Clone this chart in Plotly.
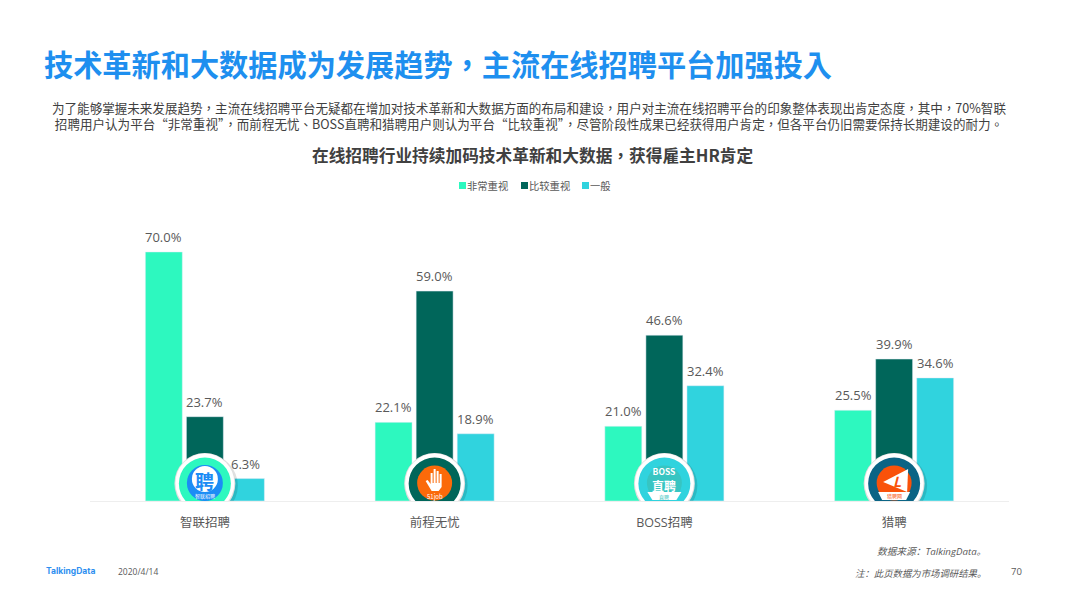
import plotly.graph_objects as go

FONT = "Open Sans, Noto Sans CJK SC, sans-serif"
CJK = "Noto Sans CJK SC, sans-serif"
CJK_TC = "Noto Sans CJK TC, sans-serif"  # 标点居中
W, H = 1066, 599
ML, MR, MT, MB = 90, 57, 200, 98

# 数据
platforms = ["智联招聘", "前程无忧", "BOSS招聘", "猎聘"]
very_high = [70.0, 22.1, 21.0, 25.5]
high = [23.7, 59.0, 46.6, 39.9]
normal = [6.3, 18.9, 32.4, 34.6]
series_names = ["非常重视", "比较重视", "一般"]
series_colors = ["#2DF8BF", "#00665A", "#30D3DE"]

page_title = "技术革新和大数据成为发展趋势，主流在线招聘平台加强投入"
intro = [
    "为了能够掌握未来发展趋势，主流在线招聘平台无疑都在增加对技术革新和大数据方面的布局和建设，用户对主流在线招聘平台的印象整体表现出肯定态度，其中，70%智联",
    "招聘用户认为平台“非常重视”，而前程无忧、BOSS直聘和猎聘用户则认为平台“比较重视”，尽管阶段性成果已经获得用户肯定，但各平台仍旧需要保持长期建设的耐力。",
]
chart_title = "在线招聘行业持续加码技术革新和大数据，获得雇主HR肯定"
source_note = "数据来源：TalkingData。"
page_note = "注：此页数据为市场调研结果。"


def px(x):
    return (x - ML) / (W - ML - MR)


def py(y):
    return (H - MB - y) / (H - MT - MB)


fig = go.Figure()
for k, (name, vals, col) in enumerate(zip(series_names, [very_high, high, normal], series_colors)):
    fig.add_trace(go.Bar(x=platforms, y=vals, name=name, marker_color=col, cliponaxis=False))
    # 数值标签
    for cat, v in zip(platforms, vals):
        fig.add_annotation(x=cat, y=v, xref="x", yref="y", text=f"{v:.1f}%", showarrow=False,
                           xshift=(k - 1) * 41, yshift=4, yanchor="bottom",
                           font=dict(size=13, color="#595959", family=FONT))


def txt(x, y, s, size, color="#404040", anchor="center", **kw):
    fig.add_annotation(x=px(x), y=py(y), xref="paper", yref="paper", text=s,
                       showarrow=False, xanchor=anchor, yanchor="middle",
                       font=dict(size=size, color=color, family=kw.pop("family", FONT)), **kw)


def disc(cat, d, fill, dx=0, dy=17.5):
    # 圆形徽标，以类别位置和基线为锚点
    fig.add_shape(type="circle", xref="x", yref="y", xsizemode="pixel", ysizemode="pixel",
                  xanchor=cat, yanchor=0, x0=dx - d / 2, x1=dx + d / 2,
                  y0=dy - d / 2, y1=dy + d / 2, fillcolor=fill, line=dict(width=0))


def glyph(cat, path, fill):
    fig.add_shape(type="path", xref="x", yref="y", xsizemode="pixel", ysizemode="pixel",
                  xanchor=cat, yanchor=0, path=path, fillcolor=fill, line=dict(width=0))


def label(cat, s, size, color, dx=0, dy=17.5, bold=False):
    fig.add_annotation(x=cat, y=0, xref="x", yref="y", text=f"<b>{s}</b>" if bold else s,
                       showarrow=False, xshift=dx, yshift=dy, xanchor="center", yanchor="middle",
                       font=dict(size=size, color=color, family=CJK))


ring_colors = ["#2DF8BF", "#00665A", "#30D3DE", "#0B6485"]
for cat, col in zip(platforms, ring_colors):
    disc(cat, 62, "rgba(0,0,0,0.12)", dx=2, dy=15.5)
    disc(cat, 61, "#DEDEDE")
    disc(cat, 59, "#FFFFFF", dy=18)
    disc(cat, 52, col)

# 智联
disc(platforms[0], 36, "#1C8CF5", dy=18)
disc(platforms[0], 26, "#FFFFFF", dy=22)
label(platforms[0], "聘", 19, "#1C8CF5", dy=21, bold=True)
label(platforms[0], "智联招聘", 5, "#FFFFFF", dy=5)
# 前程无忧
disc(platforms[1], 35, "#FB6A0A", dy=18)
glyph(platforms[1],
      "M-9,20 L-7,21 L-4,17 L-4,28 L-2,28 L-2,18 L-1,18 L-1,32 L1,32 L1,18 L2,18 L2,30 L4,30 "
      "L4,18 L5,18 L5,27 L7,27 L7,14 L4,10 L-3,10 Z",
      "#FFFFFF")
label(platforms[1], "51job", 6, "#FFFFFF", dy=5)
# BOSS直聘
disc(platforms[2], 35, "#37C5C2", dy=18)
label(platforms[2],
      "<span style='font-size:8.5px'>BOSS</span><br><span style='font-size:12px'>直聘</span>",
      12, "#FFFFFF", dy=22, bold=True)
glyph(platforms[2], "M-17,9 L17,9 L12,1 L-12,1 Z", "#FFFFFF")
label(platforms[2], "直聘", 5, "#37C5C2", dy=4)
# 猎聘
disc(platforms[3], 35, "#F9520A", dy=18)
glyph(platforms[3], "M-11,19 L14,32 L13,9 Z", "#FFFFFF")
fig.add_annotation(x=platforms[3], y=0, xref="x", yref="y", text="<b><i>L</i></b>", showarrow=False,
                   xshift=3, yshift=20, font=dict(size=14, color="#F9520A", family=CJK))
glyph(platforms[3], "M-16,9 L16,9 L12,1 L-12,1 Z", "#FFFFFF")
label(platforms[3], "猎聘网", 5, "#F9520A", dy=5)

# 页面文字
txt(42, 63, f"<b>{page_title}</b>", 29.2, "#1E8FEF", anchor="left", family=CJK_TC)
txt(529, 116, "<br>".join(intro), 12.55, "#404040", family=CJK_TC)
txt(533, 154.5, f"<b>{chart_title}</b>", 16.7, "#404040", family=CJK_TC)

# 图例
legend_x = [459, 521, 582]
for lx, name, col in zip(legend_x, series_names, series_colors):
    fig.add_shape(type="rect", xref="paper", yref="paper", x0=px(lx), x1=px(lx + 7),
                  y0=py(189), y1=py(182), fillcolor=col, line=dict(width=0))
    txt(lx + 6, 185.5, name, 10.3, "#595959", anchor="left", family=CJK)

# 页脚
txt(44, 571, "<b>TalkingData</b>", 8.5, "#2E8FF0", anchor="left", family="Inter, sans-serif")
txt(116, 571.5, "2020/4/14", 8.5, "#595959", anchor="left")
txt(988, 551, f"<i>{source_note}</i>", 9.7, "#595959", anchor="right")
txt(988, 573, f"<i>{page_note}</i>", 9.4, "#595959", anchor="right")
txt(1016, 571, "70", 9.5, "#595959")

fig.update_layout(
    width=W, height=H, autosize=False,
    margin=dict(l=ML, r=MR, t=MT, b=MB, autoexpand=False),
    paper_bgcolor="white", plot_bgcolor="white",
    barmode="group", bargap=0.464, bargroupgap=0.1,
    showlegend=False, font=dict(family=FONT, color="#595959"),
    xaxis=dict(showgrid=False, showline=True, linecolor="#EEEEEE", linewidth=1,
               ticks="outside", ticklen=10, tickcolor="rgba(0,0,0,0)",
               tickfont=dict(size=12.5, color="#595959", family=FONT), fixedrange=True),
    yaxis=dict(range=[0, 84.6], visible=False, fixedrange=True),
)

fig.write_html("out.html", config=dict(displayModeBar=False),
               post_script="document.body.style.margin='0';")
